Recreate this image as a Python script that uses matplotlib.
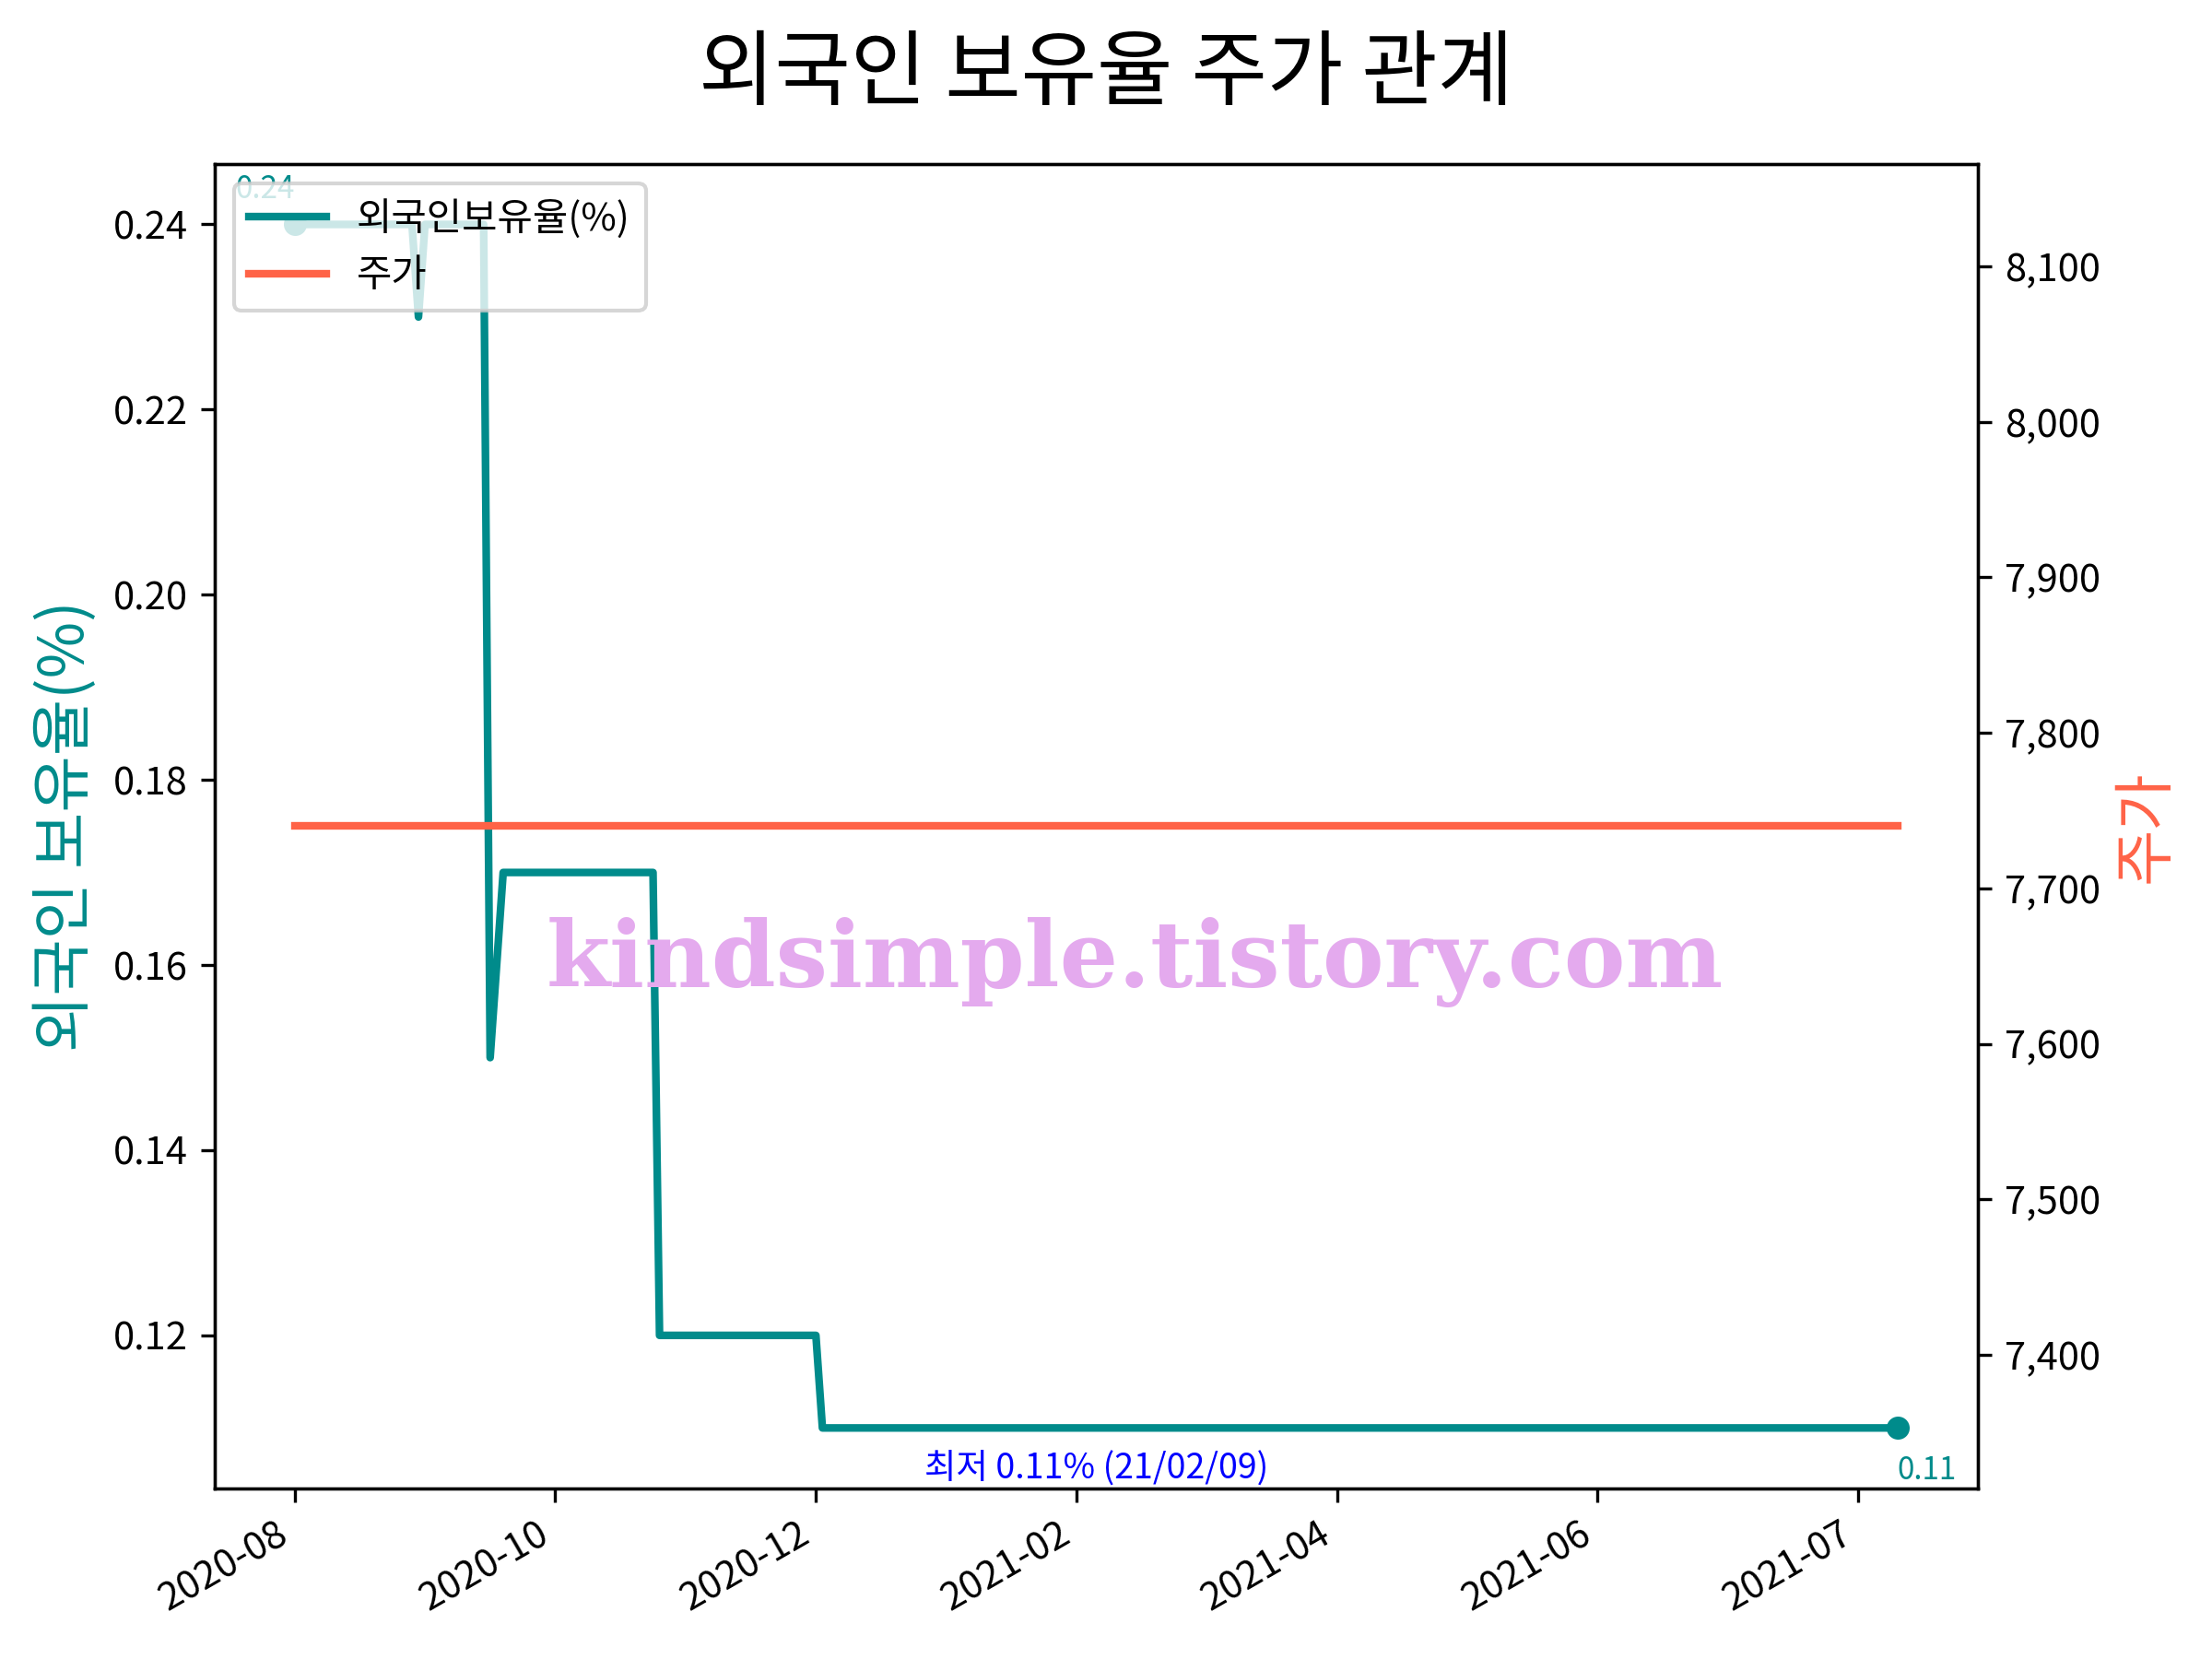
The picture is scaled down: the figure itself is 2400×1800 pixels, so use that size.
import numpy as np
import matplotlib
matplotlib.use("Agg")
import matplotlib.pyplot as plt
from matplotlib.ticker import FuncFormatter

plt.rcParams['font.family'] = ['Noto Sans CJK KR', 'DejaVu Sans']
plt.rcParams['axes.unicode_minus'] = False

# ---- data ----
# foreign ownership (%) as runs of equal values over trading-day index
foreign_values = [0.24, 0.23, 0.24, 0.15, 0.16, 0.17, 0.12, 0.11]
foreign_counts = [19, 1, 10, 1, 1, 24, 25, 166]
price_value = 7740
tick_labels = ['2020-08', '2020-10', '2020-12', '2021-02', '2021-04', '2021-06', '2021-07']
tick_step = 40
min_label = '최저 0.11% (21/02/09)'
min_index = 123

foreign = np.repeat(foreign_values, foreign_counts)
n = len(foreign)
x = np.arange(n)
price = np.repeat([price_value], n)

TEAL = '#008B8B'
TOMATO = '#FF6347'

fig = plt.figure(figsize=(8, 6), dpi=300)
ax = fig.add_axes([0.097, 0.103, 0.797, 0.798])
ax2 = ax.twinx()

l1, = ax.plot(x, foreign, color=TEAL, lw=2, label='외국인보유율(%)')
ax.plot([x[0], x[-1]], [foreign[0], foreign[-1]], 'o', color=TEAL, ms=5)
l2, = ax2.plot(x, price, color=TOMATO, lw=2, label='주가')

ax.annotate(f'{foreign[0]:.2f}', (x[0], foreign[0]), xytext=(0, 5), textcoords='offset points',
            ha='right', va='bottom', fontsize=8, color=TEAL)
ax.annotate(f'{foreign[-1]:.2f}', (x[-1], foreign[-1]), xytext=(0, -7), textcoords='offset points',
            ha='left', va='top', fontsize=8, color=TEAL)
ax.annotate(min_label, (min_index, foreign[min_index]), xytext=(0, -6), textcoords='offset points',
            ha='center', va='top', fontsize=9, color='blue')

ax.set_xticks(np.arange(0, n, tick_step))
ax.set_xticklabels(tick_labels, rotation=30, ha='right')

ax.set_ylabel('외국인 보유율(%)', color=TEAL, fontsize=16)
ax2.set_ylabel('주가', color=TOMATO, fontsize=16)
ax2.yaxis.set_major_formatter(FuncFormatter(lambda v, p: f'{v:,.0f}'))

ax2.legend(handles=[l1, l2], loc='upper left', fontsize=10)

fig.suptitle('외국인 보유율 주가 관계', fontsize=21.5)

fig.text(0.513, 0.42, 'kindsimple.tistory.com', fontsize=24, fontweight='bold',
         family='DejaVu Serif', color='#E4AAEE', ha='center', va='center')

fig.savefig('out.png', dpi=300)
